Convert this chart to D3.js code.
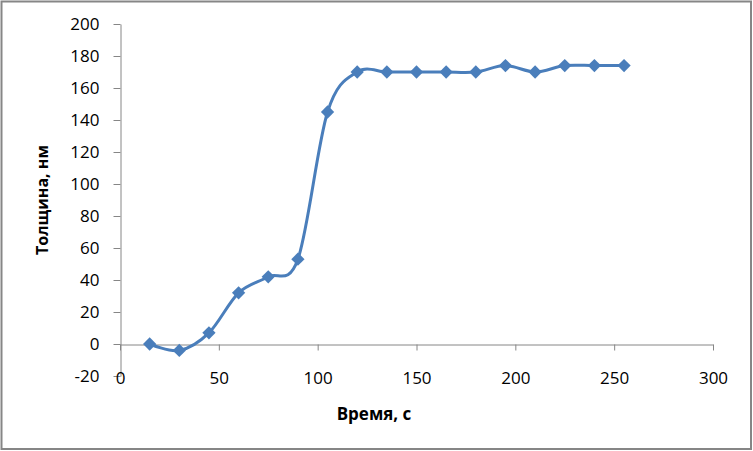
<!DOCTYPE html>
<html><head><meta charset="utf-8">
<script src="https://cdn.jsdelivr.net/npm/d3@7"></script>
<style>body{margin:0;background:#fff}svg{display:block}</style>
</head><body>
<script>
const times = [15,30,45,60,75,90,105,120,135,150,165,180,195,210,225,240,255];
const thickness = [0,-4,7,32,42,53,145,170,170,170,170,170,174,170,174,174,174];
const xTicks = [0,50,100,150,200,250,300];
const yTicks = [-20,0,20,40,60,80,100,120,140,160,180,200];
const xTitle = "Время, с";
const yTitle = "Толщина, нм";

const W = 753, H = 451;
const svg = d3.select("body").append("svg").attr("width", W).attr("height", H);
svg.append("rect").attr("x",1.5).attr("y",1.5).attr("width",W-3.5).attr("height",H-3.5)
  .attr("fill","#fff").attr("stroke","#868686").attr("stroke-width",2);

const x = d3.scaleLinear().domain([0,300]).range([120,713]);
const y = d3.scaleLinear().domain([-20,200]).range([376,24]);
const font = "'Open Sans', sans-serif";
const axisColor = "#868686";
const fmt = d => String(d);

// y axis
const yAx = svg.append("g").attr("transform","translate(120.5,0)")
  .call(d3.axisLeft(y).tickValues(yTicks).tickFormat(fmt).tickSize(7).tickPadding(14).tickSizeOuter(0));
// x axis at y=0
const xAx = svg.append("g").attr("transform",`translate(0,${Math.round(y(0))+0.5})`)
  .call(d3.axisBottom(x).tickValues(xTicks).tickFormat(fmt).tickSize(6).tickPadding(21).tickSizeOuter(0));
[yAx,xAx].forEach(g=>{
  g.select(".domain").attr("stroke",axisColor);
  g.selectAll(".tick line").attr("stroke",axisColor);
  g.selectAll(".tick text").attr("fill","#000").style("font-family",font).style("font-size","17px");
});

// line
const line = d3.line().x((d,i)=>x(times[i])).y(d=>y(d)).curve(d3.curveCardinal.tension(0));
svg.append("path").datum(thickness).attr("d",line).attr("fill","none")
  .attr("stroke","#4a7ebb").attr("stroke-width",3).attr("stroke-linejoin","round");
svg.append("g").selectAll("path").data(thickness).join("path")
  .attr("transform",(d,i)=>`translate(${x(times[i])},${y(d)}) rotate(45)`)
  .attr("d", d3.symbol().type(d3.symbolSquare).size(88))
  .attr("fill","#4a7ebb");

// titles
svg.append("text").attr("x",374).attr("y",420).attr("text-anchor","middle")
  .style("font-family",font).style("font-weight","bold").style("font-size","17px").text(xTitle);
svg.append("text").attr("transform","translate(48,200) rotate(-90)").attr("text-anchor","middle")
  .style("font-family",font).style("font-weight","bold").style("font-size","16px").text(yTitle);
</script>
</body></html>
